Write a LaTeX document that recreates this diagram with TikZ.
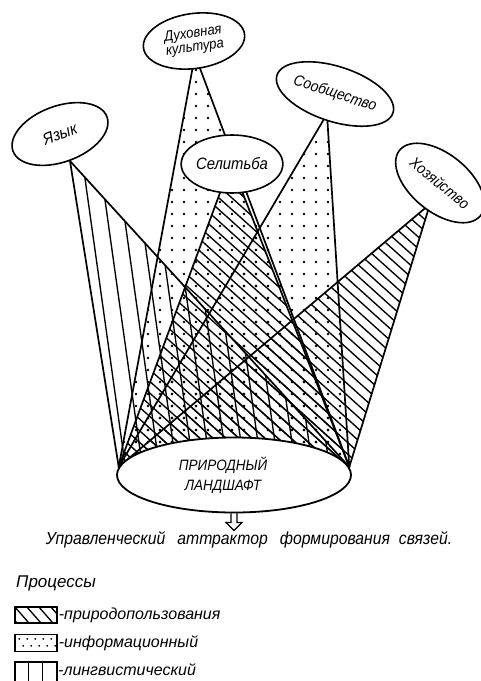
\documentclass[tikz,border=0pt]{standalone}
\usepackage{fontspec}
\setmainfont{Liberation Sans}[FakeStretch=0.9]
\newfontfamily\wfont{Liberation Sans}
\usetikzlibrary{shapes.geometric}
\pgfdeclarelayer{bg}
\pgfsetlayers{bg,main}
\tikzset{
  lbl/.style={ellipse, draw, line width=1.6pt, fill=white, inner sep=0pt, align=center,
    font=\itshape\fontsize{16.5}{17}\selectfont},
  tri/.style={line width=1.7pt, line join=round},
  hatch/.style={line width=1.35pt},
  txt/.style={inner sep=0pt, font=\wfont\itshape\fontsize{16}{18}\selectfont},
}
\newcommand\mydiag{\foreach \k in {-430,-417,...,470} \draw[hatch] (\k,0) -- ++(700,630);}
\newcommand\myvert{\foreach \k in {-25,-8,...,340} \draw[hatch] (\k,0) -- ++(98,700);}
\newcommand\mydots{\foreach \xx in {100,112,...,360} \foreach \yy in {46,58,...,470} \fill (\xx,\yy) circle (1.3pt);}
\begin{document}
\begin{tikzpicture}[x=1pt,y=-1pt]
\useasboundingbox (0,0) rectangle (480,681);
% label ellipses
\node[lbl, minimum width=100pt, minimum height=56pt, rotate=20] (yaz) at (60,134) {Язык};
\node[lbl, minimum width=102pt, minimum height=55pt, rotate=8, font=\itshape\fontsize{14.5}{14}\selectfont] (duh) at (194,41) {Духовная\\культура};
\node[lbl, minimum width=104pt, minimum height=55pt, rotate=-18, font=\itshape\fontsize{15.5}{16}\selectfont] (soob) at (335,94) {Сообщество};
\node[lbl, minimum width=100pt, minimum height=58pt] (sel) at (232,164) {Селитьба};
\node[lbl, minimum width=104pt, minimum height=58pt, rotate=-39, font=\itshape\fontsize{15.5}{16}\selectfont] (hoz) at (440,183) {Хозяйство};
% bottom ellipse
\node[ellipse, draw, line width=1.8pt, fill=white, inner sep=0pt, minimum width=234pt, minimum height=75pt] (land) at (234,475) {};
\node[inner sep=0pt, align=center, font=\itshape\fontsize{15}{20}\selectfont] (landtxt) at ([xshift=-11pt]land.center) {ПРИРОДНЫЙ\\ЛАНДШАФТ};
\coordinate (L) at (land.176);
\coordinate (R) at (land.4);
% apexes inside the label ellipses
\coordinate (aYaz) at (70,161);
\coordinate (aDuh) at (195,55);
\coordinate (aSel) at (231,163);
\coordinate (aSoob) at (327,114);
\coordinate (aHoz) at (430,204);
\begin{pgfonlayer}{bg}
  \begin{scope}\clip (aYaz) -- (L) -- (R) -- cycle; \myvert \end{scope}
  \begin{scope}\clip (aDuh) -- (L) -- (R) -- cycle; \mydots \end{scope}
  \begin{scope}\clip (aSoob) -- (L) -- (R) -- cycle; \mydots \end{scope}
  \begin{scope}\clip (aSel) -- (L) -- (R) -- cycle; \mydiag \end{scope}
  \begin{scope}\clip (aHoz) -- (L) -- (R) -- cycle; \mydiag \end{scope}
  \foreach \a in {aYaz,aDuh,aSoob,aSel,aHoz}
    \draw[tri] (\a) -- (L) -- (R) -- cycle;
\end{pgfonlayer}
% arrow
\draw[line width=1.2pt, line join=miter] ([xshift=-3pt]land.south) -- ++(0,9) -- ++(-5,0) -- ++(8,8) -- ++(8,-8) -- ++(-5,0) -- ++(0,-9);
% caption
\node[inner sep=0pt, font=\itshape\fontsize{17.5}{19}\selectfont] (cap) at (249,540) {Управленческий\hspace{12pt}аттрактор\hspace{12pt}формирования\hspace{9pt}связей.};
% legend
\node[txt, anchor=west, font=\wfont\itshape\fontsize{17}{18}\selectfont] (proc) at (16,583) {Процессы};
\node[draw, line width=1.4pt, minimum width=42pt, minimum height=16pt, inner sep=0pt] (b1) at (36,615) {};
\begin{scope}\clip (b1.south west) rectangle (b1.north east);
  \foreach \k in {0,12,24,36} \draw[hatch] ([xshift=\k pt]b1.north west) -- ++(14,16);
  \draw[hatch] ([xshift=-12pt]b1.north west) -- ++(14,16);
\end{scope}
\node[draw, line width=1.4pt, minimum width=42pt, minimum height=17pt, inner sep=0pt] (b2) at (36,643) {};
\foreach \xx in {0,8,...,32} {
  \fill ([xshift=\xx pt+5pt, yshift=-5pt]b2.north west) circle (1pt);
  \fill ([xshift=\xx pt+9pt, yshift=-12pt]b2.north west) circle (1pt);
}
\node[draw, line width=1.4pt, minimum width=42pt, minimum height=24pt, inner sep=0pt] (b3) at (36,674) {};
\draw[hatch] ([xshift=14pt]b3.north west) -- ([xshift=14pt]b3.south west);
\draw[hatch] ([xshift=28pt]b3.north west) -- ([xshift=28pt]b3.south west);
\node[txt, anchor=west] (t1) at ([xshift=1pt]b1.east) {-природопользования};
\node[txt, anchor=west] (t2) at ([xshift=1pt]b2.east) {-информационный};
\node[txt, anchor=west] (t3) at (58,670) {-лингвистический};
\end{tikzpicture}
\end{document}
